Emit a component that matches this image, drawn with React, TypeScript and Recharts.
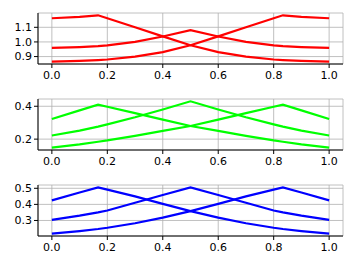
import React from 'react';
import { LineChart, Line, XAxis, YAxis, CartesianGrid } from 'recharts';

// sample positions along x (kinks at 1/6, 1/2, 5/6)
const xs = [0, 0.1, 1 / 6, 0.2, 0.3, 0.4, 0.5, 0.6, 0.7, 0.8, 5 / 6, 0.9, 1.0];
const xTicks = [0, 0.2, 0.4, 0.6, 0.8, 1.0];

// top panel (red)
const redEarly = [1.162, 1.172, 1.182, 1.162, 1.1, 1.038, 0.977, 0.93, 0.9, 0.88, 0.876, 0.87, 0.865];
const redMid = [0.96, 0.965, 0.971, 0.977, 1.0, 1.037, 1.08, 1.037, 1.0, 0.977, 0.971, 0.965, 0.96];
const redLate = [0.865, 0.87, 0.876, 0.88, 0.9, 0.93, 0.977, 1.038, 1.1, 1.162, 1.182, 1.172, 1.162];
const redTicks = [0.9, 1.0, 1.1];

// middle panel (green)
const greenEarly = [0.322, 0.375, 0.41, 0.397, 0.358, 0.319, 0.28, 0.25, 0.22, 0.192, 0.184, 0.168, 0.148];
const greenMid = [0.222, 0.252, 0.276, 0.29, 0.333, 0.38, 0.43, 0.38, 0.333, 0.29, 0.276, 0.252, 0.222];
const greenLate = [0.148, 0.168, 0.184, 0.192, 0.22, 0.25, 0.28, 0.319, 0.358, 0.397, 0.41, 0.375, 0.322];
const greenTicks = [0.2, 0.4];

// bottom panel (blue)
const blueEarly = [0.425, 0.474, 0.506, 0.492, 0.45, 0.403, 0.358, 0.318, 0.283, 0.255, 0.247, 0.234, 0.218];
const blueMid = [0.304, 0.33, 0.35, 0.362, 0.41, 0.458, 0.506, 0.458, 0.41, 0.362, 0.35, 0.33, 0.304];
const blueLate = [0.218, 0.234, 0.247, 0.255, 0.283, 0.318, 0.358, 0.403, 0.45, 0.492, 0.506, 0.474, 0.425];
const blueTicks = [0.3, 0.4, 0.5];

const font = { fill: '#000', fontSize: 11, fontFamily: 'DejaVu Sans' };

interface PanelProps {
  top: number;
  height: number;
  margin: { top: number; right: number; bottom: number; left: number };
  series: number[][];
  color: string;
  yTicks: number[];
}

const Panel: React.FC<PanelProps> = ({ top, height, margin, series, color, yTicks }) => {
  const data = xs.map((x, i) => ({ x, a: series[0][i], b: series[1][i], c: series[2][i] }));
  const all = series.flat();
  const lo = Math.min(...all);
  const hi = Math.max(...all);
  const pad = (hi - lo) * 0.05;

  return (
    <div style={{ position: 'absolute', left: 0, top }}>
      <LineChart width={357} height={height} data={data} margin={margin}>
        <CartesianGrid stroke="#b0b0b0" strokeWidth={0.8} />
        <XAxis
          dataKey="x"
          type="number"
          domain={[-0.05, 1.05]}
          ticks={xTicks}
          interval={0}
          allowDataOverflow
          tickFormatter={(v: number) => v.toFixed(1)}
          tick={font}
          tickSize={4}
          tickMargin={3}
          height={20}
          stroke="#000"
        />
        <XAxis xAxisId="top" orientation="top" dataKey="x" type="number" tick={false} tickLine={false} height={0} stroke="#000" />
        <YAxis
          type="number"
          domain={[lo - pad, hi + pad]}
          ticks={yTicks}
          interval={0}
          allowDataOverflow
          tickFormatter={(v: number) => v.toFixed(1)}
          tick={font}
          tickSize={4}
          tickMargin={2}
          width={38}
          stroke="#000"
        />
        <YAxis yAxisId="right" orientation="right" tick={false} tickLine={false} width={0} stroke="#000" />
        <Line dataKey="a" stroke={color} strokeWidth={2.2} dot={false} isAnimationActive={false} />
        <Line dataKey="b" stroke={color} strokeWidth={2.2} dot={false} isAnimationActive={false} />
        <Line dataKey="c" stroke={color} strokeWidth={2.2} dot={false} isAnimationActive={false} />
      </LineChart>
    </div>
  );
};

export default function App() {
  return (
    <div style={{ position: 'absolute', left: 0, top: 0, width: 357, height: 268, background: '#fff' }}>
      <Panel
        top={0}
        height={85}
        margin={{ top: 13, right: 14, bottom: 1, left: 0 }}
        series={[redEarly, redMid, redLate]}
        color="#ff0000"
        yTicks={redTicks}
      />
      <Panel
        top={85}
        height={85}
        margin={{ top: 14, right: 14, bottom: 0, left: 0 }}
        series={[greenEarly, greenMid, greenLate]}
        color="#00ff00"
        yTicks={greenTicks}
      />
      <Panel
        top={170}
        height={98}
        margin={{ top: 15, right: 14, bottom: 12, left: 0 }}
        series={[blueEarly, blueMid, blueLate]}
        color="#0000ff"
        yTicks={blueTicks}
      />
    </div>
  );
}
